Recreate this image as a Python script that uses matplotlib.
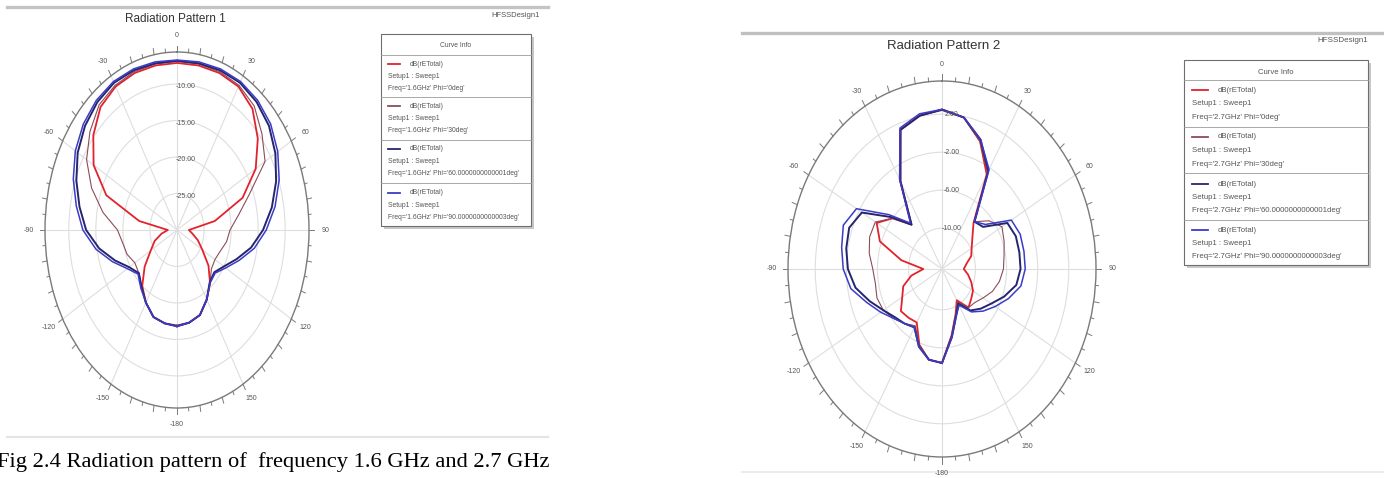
import numpy as np
import matplotlib
matplotlib.use("Agg")
import matplotlib.pyplot as plt
from matplotlib.patches import Rectangle

W, H = 1384, 478

# Sample angles (deg), HFSS theta sweep
theta_deg = list(range(-180, 180, 10))

# ---- Radiation Pattern 1 : dB(rETotal) at 1.6 GHz ----
p1_phi0 = [-16.9, -17.0, -17.3, -18.5, -20.0, -22.2, -24.4, -25.6, -27.1, -28.3,
           -22.9, -16.1, -12.2, -9.8, -8.0, -7.3, -7.1, -7.1,
           -7.1, -7.1, -7.1, -7.3, -8.3, -10.5, -13.2, -17.1, -22.9, -27.8,
           -27.1, -25.9, -24.6, -22.4, -20.5, -19.0, -17.6, -17.1]
p1_phi30 = [-16.9, -17.0, -17.3, -18.5, -19.8, -20.8, -21.0, -20.2, -19.8, -19.0,
            -16.1, -13.2, -10.7, -9.0, -7.6, -7.1, -6.9, -6.9,
            -6.9, -6.9, -6.9, -7.1, -7.8, -9.5, -11.2, -15.8, -18.5, -20.2,
            -20.7, -21.5, -21.9, -21.7, -20.5, -19.0, -17.6, -17.1]
p1_phi60 = [-16.8, -17.0, -17.3, -18.5, -19.8, -20.8, -19.8, -17.8, -15.4, -13.2,
            -11.7, -10.2, -8.8, -7.8, -7.1, -6.7, -6.7, -6.8,
            -6.8, -6.8, -6.7, -6.7, -7.1, -7.8, -9.0, -10.5, -12.2, -14.1,
            -16.1, -18.3, -20.0, -21.0, -20.6, -19.0, -17.6, -17.1]
p1_phi90 = [-16.8, -17.0, -17.3, -18.5, -19.6, -20.6, -19.4, -17.3, -14.8, -12.6,
            -11.1, -9.6, -8.3, -7.4, -6.8, -6.5, -6.5, -6.6,
            -6.7, -6.6, -6.5, -6.5, -6.8, -7.4, -8.5, -9.9, -11.6, -13.5,
            -15.5, -17.8, -19.6, -20.8, -20.5, -19.0, -17.6, -17.1]
p1_rlim = (-30.0, -5.6)
p1_rings = [-25, -20, -15, -10]
p1_ring_labels = ["-25.00", "-20.00", "-15.00", "-10.00"]
p1_legend = ["Freq='1.6GHz' Phi='0deg'",
             "Freq='1.6GHz' Phi='30deg'",
             "Freq='1.6GHz' Phi='60.0000000000001deg'",
             "Freq='1.6GHz' Phi='90.0000000000003deg'"]

# ---- Radiation Pattern 2 : dB(rETotal) at 2.7 GHz ----
p2_phi0 = [-4.4, -4.6, -5.8, -7.8, -7.6, -7.4, -8.4, -9.0, -10.3, -11.9,
           -9.0, -5.8, -4.6, -6.0, -8.2, -3.6, 1.3, 2.1,
           2.5, 1.9, 0.0, -2.8, -8.0, -9.2, -9.9, -10.3, -11.1, -11.5,
           -10.9, -10.3, -9.7, -9.4, -9.0, -10.5, -9.2, -7.2]
p2_phi30 = [-4.4, -4.6, -5.8, -7.4, -6.8, -6.2, -5.6, -5.4, -5.6, -5.4,
            -4.8, -4.4, -4.4, -6.0, -8.2, -3.4, 1.3, 2.1,
            2.4, 1.9, 0.0, -2.6, -7.8, -6.4, -5.4, -5.8, -6.2, -6.4,
            -6.8, -7.4, -8.2, -8.8, -9.0, -10.3, -9.2, -7.2]
p2_phi60 = [-4.4, -4.6, -5.6, -7.2, -6.8, -6.4, -5.6, -4.4, -3.0, -2.2,
            -1.8, -1.6, -2.4, -5.8, -8.2, -3.6, 1.3, 2.1,
            2.5, 1.9, 0.2, -2.4, -7.8, -7.4, -4.6, -4.2, -4.2, -4.2,
            -4.6, -5.8, -7.0, -7.8, -8.6, -10.1, -9.0, -7.0]
p2_phi90 = [-4.4, -4.6, -5.6, -7.2, -6.8, -6.2, -5.2, -4.0, -2.4, -1.6,
            -1.2, -0.8, -1.6, -5.4, -8.0, -3.4, 1.5, 2.3,
            2.5, 1.9, 0.2, -2.2, -7.8, -7.0, -4.0, -3.6, -3.6, -3.6,
            -4.0, -5.2, -6.4, -7.4, -8.4, -9.9, -9.0, -7.0]
p2_rlim = (-14.3, 5.5)
p2_rings = [-10, -6, -2, 2]
p2_ring_labels = ["-10.00", "-6.00", "-2.00", "2.00"]
p2_legend = ["Freq='2.7GHz' Phi='0deg'",
             "Freq='2.7GHz' Phi='30deg'",
             "Freq='2.7GHz' Phi='60.0000000000001deg'",
             "Freq='2.7GHz' Phi='90.0000000000003deg'"]

theta_labels = ["0", "30", "60", "90", "120", "150",
                "-180", "-150", "-120", "-90", "-60", "-30"]

trace_colors = ["#e2222c", "#8c4c58", "#25256e", "#3b3bc8"]
trace_widths = [1.3, 0.8, 1.4, 1.1]

SANS = ["Liberation Sans", "DejaVu Sans"]
TXT = "#555555"

fig = plt.figure(figsize=(W / 100, H / 100), dpi=100)
fig.patch.set_facecolor("white")

# overlay in pixel coordinates for frame lines, titles, legends, caption
ov = fig.add_axes([0, 0, 1, 1], zorder=0)
ov.set_xlim(0, W)
ov.set_ylim(H, 0)
ov.axis("off")
ov.patch.set_alpha(0)


def px_rect(x0, y0, x1, y1):
    return [x0 / W, 1 - y1 / H, (x1 - x0) / W, (y1 - y0) / H]


def polar_panel(box, rlim, rings, ring_labels, series, label_off):
    ax = fig.add_axes(px_rect(*box), projection="polar", zorder=2)
    ax.set_aspect("auto")
    ax.patch.set_alpha(0)
    ax.set_theta_zero_location("N")
    ax.set_theta_direction(-1)
    ax.set_ylim(*rlim)
    ax.set_rgrids(rings, labels=[""] * len(rings))
    ax.set_thetagrids(range(0, 360, 30), theta_labels, fontsize=5,
                      color=TXT, family=SANS)
    ax.tick_params(axis="x", pad=1.5)
    ax.grid(True, color="#dedede", lw=0.8)
    ax.spines["polar"].set_color("#7a7a7a")
    ax.spines["polar"].set_linewidth(1.0)
    span = rlim[1] - rlim[0]
    # tick marks around the outer boundary
    for a in range(0, 360, 5):
        ln = 0.035 * span if a % 10 == 0 else 0.02 * span
        t = np.deg2rad(a)
        ax.plot([t, t], [rlim[1], rlim[1] + ln], color="#7a7a7a", lw=0.7,
                clip_on=False, zorder=1)
    th = np.deg2rad(theta_deg + [theta_deg[0]])
    for vals, c, lw in zip(series, trace_colors, trace_widths):
        ax.plot(th, vals + [vals[0]], color=c, lw=lw, zorder=3)
    for r, lab in zip(rings, ring_labels):
        ax.annotate(lab, xy=(0, r), xytext=label_off, textcoords="offset points",
                    ha="center", va="center", fontsize=5, color=TXT,
                    family=SANS, zorder=4)
    return ax


polar_panel((45, 52, 309, 408), p1_rlim, p1_rings, p1_ring_labels,
            [p1_phi0, p1_phi30, p1_phi60, p1_phi90], (6, -2))
polar_panel((788, 81, 1096, 457), p2_rlim, p2_rings, p2_ring_labels,
            [p2_phi0, p2_phi30, p2_phi60, p2_phi90], (7, 0))

# panel frame lines
ov.plot([7, 548], [7, 7], color="#c4c4c4", lw=2.4)
ov.plot([7, 548], [437, 437], color="#e4e4e4", lw=1.6)
ov.plot([742, 1384], [33, 33], color="#c0c0c0", lw=2.4)
ov.plot([742, 1384], [472, 472], color="#ececec", lw=1.4)

# titles
ov.text(175, 19, "Radiation Pattern 1", fontsize=8.5, color="#333333",
        family=SANS, ha="center", va="center")
ov.text(944, 46, "Radiation Pattern 2", fontsize=9.5, color="#333333",
        family=SANS, ha="center", va="center")
ov.text(516, 15, "HFSSDesign1", fontsize=5.5, color=TXT, family=SANS,
        ha="center", va="center")
ov.text(1343, 40, "HFSSDesign1", fontsize=5.8, color=TXT, family=SANS,
        ha="center", va="center")


def legend_box(x0, y0, x1, y1, head_y, seps, blocks, dy, tx, sx1, lx, labels, fs):
    ov.add_patch(Rectangle((x0 + 3, y0 + 3), x1 - x0, y1 - y0,
                           facecolor="#c8c8c8", edgecolor="none", zorder=3))
    ov.add_patch(Rectangle((x0, y0), x1 - x0, y1 - y0, facecolor="white",
                           edgecolor="#6e6e6e", lw=0.8, zorder=4))
    ov.text((x0 + x1) / 2, head_y, "Curve Info", fontsize=fs, color=TXT,
            family=SANS, ha="center", va="center", zorder=5)
    for s in seps:
        ov.plot([x0, x1], [s, s], color="#9a9a9a", lw=0.6, zorder=5)
    for by, lab, c in zip(blocks, labels, trace_colors):
        ov.plot([tx, sx1], [by, by], color=c, lw=1.3, zorder=5)
        ov.text(lx, by, "dB(rETotal)", fontsize=fs, color=TXT, family=SANS,
                ha="left", va="center", zorder=5)
        ov.text(tx, by + dy, "Setup1 : Sweep1", fontsize=fs, color=TXT,
                family=SANS, ha="left", va="center", zorder=5)
        ov.text(tx, by + 2 * dy, lab, fontsize=fs, color=TXT, family=SANS,
                ha="left", va="center", zorder=5)


legend_box(381, 34, 531, 226, 45, [55, 97, 140, 183], [64, 106, 149, 193],
           12.3, 388, 400, 410, p1_legend, 4.9)
legend_box(1184, 60, 1368, 265, 72, [80, 127, 173, 220], [90, 137, 184, 230],
           13.5, 1192, 1208, 1218, p2_legend, 5.6)

# caption
ov.text(-3, 462, "Fig 2.4 Radiation pattern of  frequency 1.6 GHz and 2.7 GHz",
        fontsize=16.2, color="black", family=["Liberation Serif", "DejaVu Serif"],
        ha="left", va="center")

fig.savefig("out.png", dpi=100)
